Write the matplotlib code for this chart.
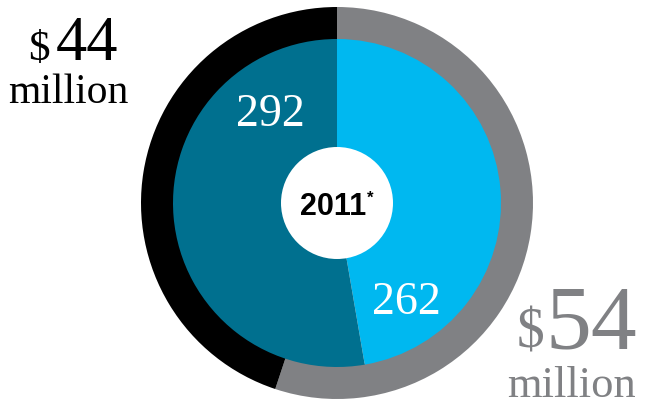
import matplotlib
matplotlib.use('Agg')
import matplotlib.pyplot as plt
from matplotlib.patches import Circle

# Data
outer_values = [54, 44]          # $ million: gray (right), black (left)
outer_amounts = ['54', '44']
inner_values = [262, 292]        # light blue (right), dark teal (left)
inner_labels = ['262', '292']
year_label = '2011'

GRAY = '#808184'
BLACK = '#000000'
LIGHT = '#00B8F0'
TEAL = '#00708F'

W, H = 645, 407
fig = plt.figure(figsize=(6.45, 4.07), dpi=100)
ax = fig.add_axes([0, 0, 1, 1])

cx, cy = 337, H - 203
ax.pie(outer_values, radius=196, center=(cx, cy), startangle=90,
       counterclock=False, colors=[GRAY, BLACK],
       wedgeprops=dict(width=33, linewidth=0))
ax.pie(inner_values, radius=164, center=(cx, cy), startangle=90,
       counterclock=False, colors=[LIGHT, TEAL],
       wedgeprops=dict(linewidth=0))
ax.add_patch(Circle((cx, cy), 56, facecolor='white', edgecolor='none', zorder=5))

ax.set_xlim(0, W)
ax.set_ylim(0, H)
ax.set_aspect('equal')
ax.axis('off')

serif = 'Liberation Serif'
sans = 'Liberation Sans'

def Y(y):
    return H - y

# $44 million (top-left)
ax.text(50, Y(60), '$', fontsize=31, family=serif, color=BLACK, ha='right', va='baseline')
ax.text(56, Y(60), outer_amounts[1], fontsize=45, family=serif, color=BLACK, ha='left', va='baseline')
ax.text(68, Y(103), 'million', fontsize=30, family=serif, color=BLACK, ha='center', va='baseline')

# $54 million (bottom-right)
ax.text(544, Y(348), '$', fontsize=40, family=serif, color=GRAY, ha='right', va='baseline')
ax.text(545, Y(348), outer_amounts[0], fontsize=66, family=serif, color=GRAY, ha='left', va='baseline')
ax.text(571, Y(397), 'million', fontsize=32, family=serif, color=GRAY, ha='center', va='baseline')

# inner labels
ax.text(270, Y(126), inner_labels[1], fontsize=33, family=serif, color='white', ha='center', va='baseline')
ax.text(406, Y(314), inner_labels[0], fontsize=33, family=serif, color='white', ha='center', va='baseline')

# center year
ax.text(366, Y(215), year_label, fontsize=22, family=sans, weight='bold', color=BLACK,
        ha='right', va='baseline', zorder=6)
ax.text(367, Y(203), '*', fontsize=12, family=sans, weight='bold', color=BLACK,
        ha='left', va='baseline', zorder=6)

fig.savefig('out.png', dpi=100)
